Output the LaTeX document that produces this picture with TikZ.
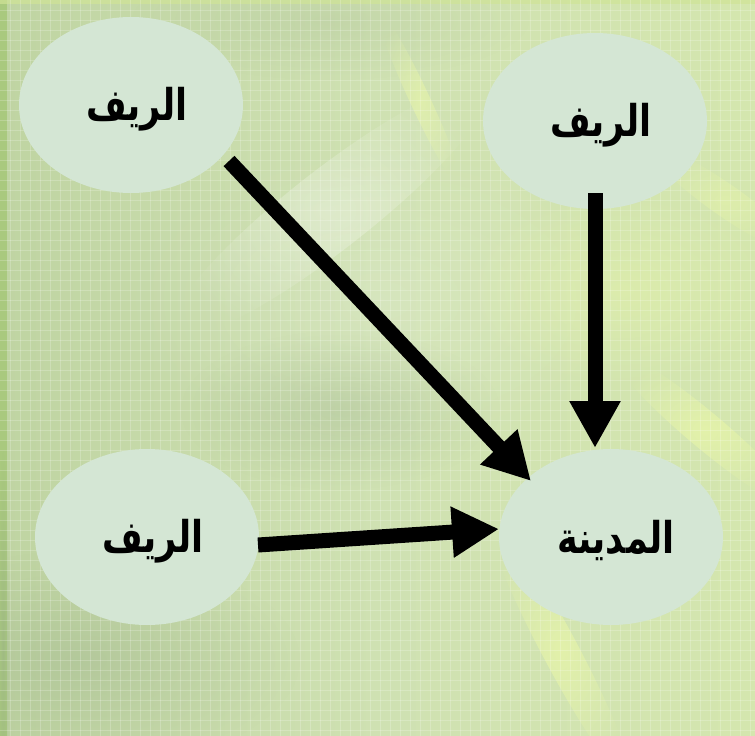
\documentclass[tikz,border=0pt]{standalone}
\usepackage{fontspec}
\TeXXeTstate=1
\newfontfamily\arabicfont[Script=Arabic]{DejaVu Sans}
\usetikzlibrary{shapes.geometric,arrows.meta,calc,fadings}
\tikzfading[name=softglow, inner color=transparent!0, outer color=transparent!100]
\definecolor{nodefill}{HTML}{D4E6D4}
\definecolor{bgleft}{HTML}{BFD4A2}
\definecolor{bgmid}{HTML}{CFE1B2}
\definecolor{bgright}{HTML}{D4E6AE}
\definecolor{streak}{HTML}{EAF7A8}
\definecolor{edgegreen}{HTML}{A9C97E}
\definecolor{shadowgreen}{HTML}{98AE88}
\newcommand{\artext}[1]{\raisebox{-4pt}[\height][\depth]{\scalebox{1}[1.25]{\beginR #1\endR}}}
\begin{document}
\begin{tikzpicture}[x=1pt,y=-1pt,
  place/.style={ellipse, fill=nodefill, minimum width=224pt, minimum height=176pt, inner sep=0pt,
    font=\arabicfont\bfseries\fontsize{35}{40}\selectfont},
  arr/.style={line width=15pt, -{Triangle[width=48pt,length=47pt]}},
  glow/.style={path fading=softglow},
  gridline/.style={white, opacity=0.2, line width=0.7pt}]
\path[use as bounding box] (0,0) rectangle (755,736);
% background
\shade[left color=bgleft, right color=bgright, middle color=bgmid] (0,0) rectangle (755,736);
\fill[white, opacity=0.3, glow, rotate around={38:(330,210)}] (330,210) ellipse (200 and 40);
\fill[white, opacity=0.15, glow] (380,300) ellipse (260 and 160);
\fill[shadowgreen, opacity=0.35, glow] (80,660) ellipse (220 and 110);
\fill[shadowgreen, opacity=0.3, glow] (340,410) ellipse (160 and 80);
\fill[shadowgreen, opacity=0.2, glow] (330,20) ellipse (200 and 60);
\fill[streak, opacity=0.7, glow, rotate around={-62:(560,650)}] (560,650) ellipse (150 and 18);
\fill[streak, opacity=0.7, glow, rotate around={-40:(705,430)}] (705,430) ellipse (120 and 18);
\fill[streak, opacity=0.6, glow, rotate around={-65:(420,100)}] (420,100) ellipse (100 and 10);
\fill[streak, opacity=0.45, glow, rotate around={-35:(725,200)}] (725,200) ellipse (90 and 16);
\fill[streak, opacity=0.4, glow] (620,290) ellipse (160 and 100);
\fill[edgegreen] (0,0) rectangle (7,736);
\fill[shadowgreen, opacity=0.5, glow] (3,650) ellipse (6 and 200);
\fill[streak!60!edgegreen, opacity=0.7] (0,0) rectangle (755,4);
\foreach \g in {10,20,...,750} {\draw[gridline] (\g,0) -- (\g,736);}
\foreach \g in {10,20,...,730} {\draw[gridline] (0,\g) -- (755,\g);}
% nodes
\node[place] (r1) at (131,105) {\hspace*{12pt}\artext{الريف}};
\node[place] (r2) at (595,121) {\hspace*{12pt}\artext{الريف}};
\node[place] (r3) at (147,537) {\hspace*{12pt}\artext{الريف}};
\node[place] (city) at (611,537) {\hspace*{10pt}\artext{المدينة}};
% connector ends
\coordinate (s1) at (229,161);
\coordinate (e1) at (531,481);
\coordinate (s2) at (595,193);
\coordinate (e2) at (595,448);
\coordinate (s3) at (258,545);
\coordinate (e3) at (499,529);
\draw[arr] (s1) -- (e1);
\draw[arr] (s2) -- (e2);
\draw[arr] (s3) -- (e3);
\end{tikzpicture}
\end{document}
